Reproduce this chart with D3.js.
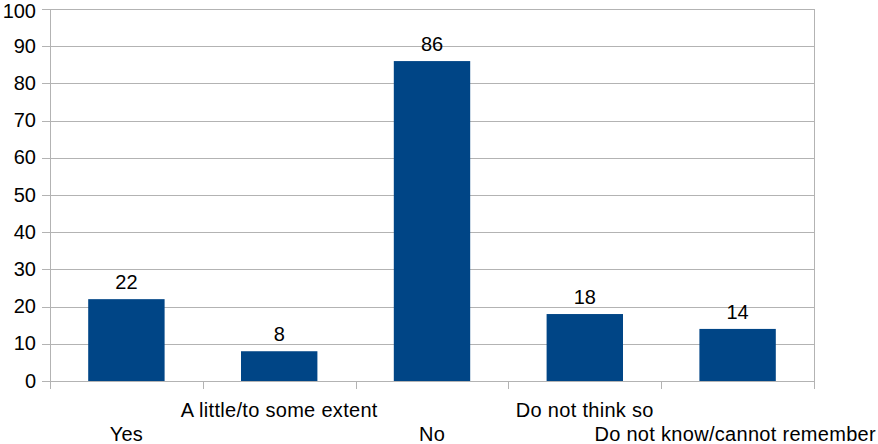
<!DOCTYPE html>
<html>
<head>
<meta charset="utf-8">
<script src="https://cdn.jsdelivr.net/npm/d3@7"></script>
<style>
  body { margin: 0; background: #fff; }
  text { font-family: "Liberation Sans", Arial, sans-serif; fill: #000; }
</style>
</head>
<body>
<div id="chart"></div>
<script>
var categories = ["Yes", "A little/to some extent", "No", "Do not think so", "Do not know/cannot remember"];
var values = [22, 8, 86, 18, 14];
var yTicks = [0, 10, 20, 30, 40, 50, 60, 70, 80, 90, 100];

var width = 878, height = 444;
var margin = { left: 50, right: 64, top: 9, bottom: 63 };
var barColor = "#004586";
var gridColor = "#b3b3b3";
var fontSize = "20px";

var svg = d3.select("#chart").append("svg")
    .attr("width", width)
    .attr("height", height);

var x = d3.scaleBand()
    .domain(categories)
    .range([margin.left, width - margin.right])
    .paddingInner(0)
    .paddingOuter(0);

var y = d3.scaleLinear()
    .domain([0, 100])
    .range([height - margin.bottom, margin.top]);

// horizontal grid lines + tick marks to the left
svg.append("g").selectAll("line")
    .data(yTicks)
    .enter().append("line")
    .attr("x1", margin.left - 8)
    .attr("x2", width - margin.right)
    .attr("y1", function (d) { return Math.round(y(d)) + 0.5; })
    .attr("y2", function (d) { return Math.round(y(d)) + 0.5; })
    .attr("stroke", gridColor)
    .attr("stroke-width", 1);

// y tick labels (top one kept inside the page)
svg.append("g").selectAll("text")
    .data(yTicks)
    .enter().append("text")
    .attr("x", margin.left - 14)
    .attr("y", function (d) { return Math.max(y(d) + 6.5, 18); })
    .attr("text-anchor", "end")
    .attr("font-size", fontSize)
    .text(function (d) { return d; });

// vertical axis lines and category boundary ticks
var bounds = categories.map(function (c) { return x(c); });
bounds.push(width - margin.right);
svg.append("g").selectAll("line")
    .data(bounds)
    .enter().append("line")
    .attr("x1", function (d) { return Math.round(d) + 0.5; })
    .attr("x2", function (d) { return Math.round(d) + 0.5; })
    .attr("y1", function (d, i) { return (i == 0 || i == bounds.length - 1) ? margin.top : y(0); })
    .attr("y2", y(0) + 8)
    .attr("stroke", gridColor)
    .attr("stroke-width", 1);

// bars
var bw = x.bandwidth() * 0.5;
svg.append("g").selectAll("rect")
    .data(values)
    .enter().append("rect")
    .attr("x", function (d, i) { return x(categories[i]) + x.bandwidth() / 2 - bw / 2; })
    .attr("y", function (d) { return y(d); })
    .attr("width", bw)
    .attr("height", function (d) { return y(0) - y(d); })
    .attr("fill", barColor);

// value labels
svg.append("g").selectAll("text")
    .data(values)
    .enter().append("text")
    .attr("x", function (d, i) { return x(categories[i]) + x.bandwidth() / 2; })
    .attr("y", function (d) { return y(d) - 10; })
    .attr("text-anchor", "middle")
    .attr("font-size", fontSize)
    .text(function (d) { return d; });

// category labels, staggered over two rows, pushed back in if they run off the right edge
svg.append("g").selectAll("text")
    .data(categories)
    .enter().append("text")
    .attr("y", function (d, i) { return i % 2 == 1 ? 416.5 : 440.5; })
    .attr("text-anchor", "start")
    .attr("font-size", fontSize)
    .attr("letter-spacing", "0.3px")
    .text(function (d) { return d; })
    .attr("x", function (d) {
        var w = this.getComputedTextLength();
        var cx = x(d) + x.bandwidth() / 2;
        return Math.min(cx + w / 2, width - 2) - w;
    });
</script>
</body>
</html>
